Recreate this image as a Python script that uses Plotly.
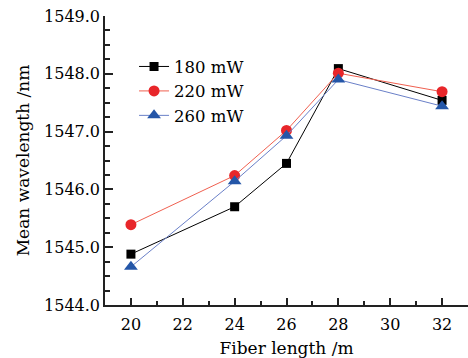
import plotly.graph_objects as go

fiber_length = [20, 24, 26, 28, 32]
series_names = ["180 mW", "220 mW", "260 mW"]
wl_180 = [1544.88, 1545.70, 1546.45, 1548.09, 1547.54]
wl_220 = [1545.39, 1546.24, 1547.02, 1548.01, 1547.69]
wl_260 = [1544.66, 1546.14, 1546.93, 1547.90, 1547.44]
y_ticks = [1544, 1545, 1546, 1547, 1548, 1549]
x_ticks = [20, 22, 24, 26, 28, 30, 32]

FONT = "DejaVu Serif"
fig = go.Figure()
styles = [
    ("#000000", "#000000", "square", 9),
    ("#f06050", "#e8262a", "circle", 11),
    ("#6a80c8", "#2456a8", "triangle-up", 12),
]
for name, ys, (lc, mc, sym, ms) in zip(series_names, [wl_180, wl_220, wl_260], styles):
    fig.add_trace(go.Scatter(
        x=fiber_length, y=ys, name=name, mode="lines+markers",
        line=dict(color=lc, width=1),
        marker=dict(symbol=sym, size=ms, color=mc, line=dict(width=0)),
    ))

fig.update_layout(
    width=468, height=358,
    margin=dict(l=105, r=0, t=16, b=53),
    paper_bgcolor="white", plot_bgcolor="white",
    font=dict(family=FONT, size=16, color="#000"),
    showlegend=True,
    legend=dict(x=0.08, y=0.885, xanchor="left", yanchor="top",
                bgcolor="rgba(0,0,0,0)", font=dict(size=16.5, family=FONT),
                tracegroupgap=0, itemwidth=30),
    xaxis=dict(
        range=[19, 33], tickvals=x_ticks, ticktext=[str(v) for v in x_ticks],
        showgrid=False, zeroline=False, showline=True, linecolor="#222", linewidth=1.5,
        ticks="inside", ticklen=7, tickwidth=1.5, tickcolor="#222",
        minor=dict(dtick=1, tick0=19, ticks="inside", ticklen=4, tickwidth=1.5, tickcolor="#222"),
        title=dict(text="Fiber length /m", font=dict(size=17, family=FONT), standoff=9),
        tickfont=dict(size=16, family=FONT),
        ticklabelstandoff=4,
    ),
    yaxis=dict(
        range=[1544, 1549], tickvals=y_ticks, ticktext=[f"{v:.1f}" for v in y_ticks],
        showgrid=False, zeroline=False, showline=True, linecolor="#222", linewidth=1.5,
        ticks="inside", ticklen=8, tickwidth=1.5, tickcolor="#222",
        minor=dict(dtick=0.25, tick0=1544, ticks="inside", ticklen=5, tickwidth=1.5, tickcolor="#222"),
        title=dict(text="Mean wavelength /nm", font=dict(size=17, family=FONT), standoff=10),
        tickfont=dict(size=16, family=FONT),
    ),
)
fig.write_html("out.html")
